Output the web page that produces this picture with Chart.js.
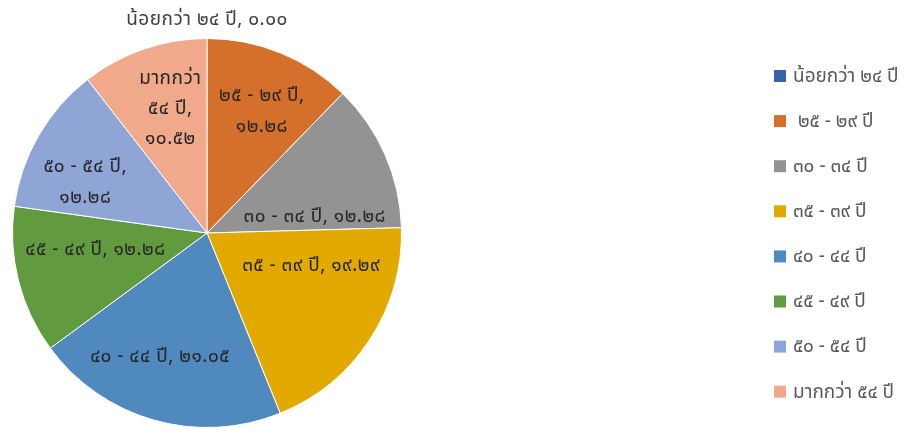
<!DOCTYPE html>
<html>
<head>
<meta charset="utf-8">
<script src="https://cdn.jsdelivr.net/npm/chart.js@4/dist/chart.umd.min.js"></script>
<style>
  html, body { margin: 0; padding: 0; background: #ffffff; }
  #wrap { width: 906px; height: 430px; position: relative; }
</style>
</head>
<body>
<div id="wrap"><canvas id="c" width="906" height="430"></canvas></div>
<script>
// ---- data ----
const categories = [
  'น้อยกว่า ๒๔ ปี',
  '๒๕ - ๒๙ ปี',
  '๓๐ - ๓๔ ปี',
  '๓๕ - ๓๙ ปี',
  '๔๐ - ๔๔ ปี',
  '๔๕ - ๔๙ ปี',
  '๕๐ - ๕๔ ปี',
  'มากกว่า ๕๔ ปี'
];
const legendLabels = [
  'น้อยกว่า ๒๔ ปี',
  ' ๒๕ - ๒๙ ปี',
  '๓๐ - ๓๔ ปี',
  '๓๕ - ๓๙ ปี',
  '๔๐ - ๔๔ ปี',
  '๔๕ - ๔๙ ปี',
  '๕๐ - ๕๔ ปี',
  'มากกว่า ๕๔ ปี'
];
const values = [0.00, 12.28, 12.28, 19.29, 21.05, 12.28, 12.28, 10.52];
const valueLabels = ['๐.๐๐', '๑๒.๒๘', '๑๒.๒๘', '๑๙.๒๙', '๒๑.๐๕', '๑๒.๒๘', '๑๒.๒๘', '๑๐.๕๒'];

// ---- style ----
const colors = ['#3a62ab', '#d4702c', '#939393', '#e2a900', '#4f89bd', '#629a3f', '#8fa5d6', '#f0a98a'];
const FONT = "'Noto Sans Thai', 'Leelawadee UI', 'Tahoma', sans-serif";
// label layout per slice: lines, radial fraction, angle shift (deg)
const labelLines = [
  null,
  ['๒๕ - ๒๙ ปี,', '๑๒.๒๘'],
  null,
  null,
  null,
  null,
  ['๕๐ - ๕๔ ปี,', '๑๒.๒๘'],
  ['มากกว่า', '๕๔ ปี,', '๑๐.๕๒']
];
const labelFrac = [1.097, 0.69, 0.56, 0.56, 0.68, 0.58, 0.68, 0.67];
const labelShift = [0, 2, 15, -16, 5, 6, -7, 2.6];

const sliceLabels = {
  id: 'sliceLabels',
  afterDatasetsDraw(chart) {
    const ctx = chart.ctx;
    const meta = chart.getDatasetMeta(0);
    ctx.save();
    ctx.font = '19px ' + FONT;
    ctx.letterSpacing = '0.5px';
    ctx.textAlign = 'center';
    ctx.textBaseline = 'middle';
    meta.data.forEach((arc, i) => {
      const p = arc.getProps(['x', 'y', 'startAngle', 'endAngle', 'outerRadius'], true);
      const mid = (p.startAngle + p.endAngle) / 2 + labelShift[i] * Math.PI / 180;
      const r = p.outerRadius * labelFrac[i];
      const cx = p.x + Math.cos(mid) * r;
      const cy = p.y + Math.sin(mid) * r + 2;
      const lines = labelLines[i] || [chart.data.labels[i] + ', ' + valueLabels[i]];
      const lh = lines.length === 3 ? 30 : 31;
      ctx.fillStyle = i === 0 ? '#404040' : '#262626';
      lines.forEach((t, k) => {
        ctx.fillText(t, cx, cy + (k - (lines.length - 1) / 2) * lh);
      });
    });
    ctx.restore();
  }
};

const sideLegend = {
  id: 'sideLegend',
  afterDraw(chart) {
    const ctx = chart.ctx;
    const ds = chart.data.datasets[0];
    ctx.save();
    ctx.font = '19px ' + FONT;
    ctx.textAlign = 'left';
    ctx.textBaseline = 'middle';
    legendLabels.forEach((t, i) => {
      const y = 76 + i * 45.1;
      ctx.fillStyle = ds.backgroundColor[i];
      ctx.fillRect(774, y - 6, 12, 12);
      ctx.fillStyle = '#595959';
      ctx.fillText(t, 793, y + 2);
    });
    ctx.restore();
  }
};

new Chart(document.getElementById('c'), {
  type: 'pie',
  data: {
    labels: categories,
    datasets: [{
      data: values,
      backgroundColor: colors,
      borderColor: '#ffffff',
      borderWidth: 1
    }]
  },
  options: {
    responsive: false,
    animation: false,
    layout: { padding: { left: 12, right: 504, top: 38, bottom: 2 } },
    plugins: {
      legend: { display: false },
      tooltip: { enabled: false }
    }
  },
  plugins: [sliceLabels, sideLegend]
});
</script>
</body>
</html>
